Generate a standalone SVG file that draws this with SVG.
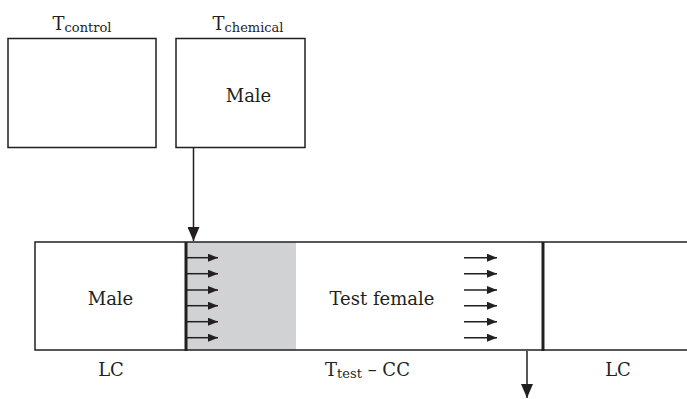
<svg xmlns="http://www.w3.org/2000/svg" width="687" height="399" viewBox="0 0 687 399">
<defs>
<style>
.box{fill:#fff;stroke:#231f20;stroke-width:1.5}
.ln{stroke:#231f20;stroke-width:1.5;fill:none}
.thick{stroke:#231f20;stroke-width:3;fill:none}
text{font-family:"DejaVu Serif","Liberation Serif",serif;fill:#231f20;font-size:18px}
.sub{font-size:13px}
</style>
<marker id="big" viewBox="0 0 14 12" refX="14" refY="6" markerWidth="14" markerHeight="12" markerUnits="userSpaceOnUse" orient="auto">
<path d="M0,0 L14,6 L0,12 Z" fill="#231f20"/>
</marker>
<marker id="sm" viewBox="0 0 10 8" refX="10" refY="4" markerWidth="10" markerHeight="8" markerUnits="userSpaceOnUse" orient="auto">
<path d="M0,0 L10,4 L0,8 Z" fill="#231f20"/>
</marker>
</defs>
<g id="control">
<rect class="box" x="8" y="38.5" width="148" height="109"/>
<text x="82" y="30" text-anchor="middle">T<tspan class="sub" dy="2">control</tspan></text>
</g>
<g id="chemical">
<rect class="box" x="176" y="38.5" width="129" height="109"/>
<text x="248" y="30" text-anchor="middle">T<tspan class="sub" dy="2">chemical</tspan></text>
<text x="248.5" y="101.5" text-anchor="middle">Male</text>
</g>
<g id="strip">
<rect x="186" y="242" width="110" height="108" fill="#d1d2d4"/>
<path class="ln" d="M687,242 H35 V350 H687"/>
<path class="thick" d="M186,242 V351"/>
<path class="thick" d="M543,242 V351"/>
<text x="110.5" y="305" text-anchor="middle">Male</text>
<text x="382" y="305" text-anchor="middle">Test female</text>
<text x="111" y="376" text-anchor="middle">LC</text>
<text x="367.5" y="376" text-anchor="middle">T<tspan class="sub" dy="2">test</tspan><tspan dy="-2"> – CC</tspan></text>
<text x="618" y="376" text-anchor="middle">LC</text>
</g>
<g id="connectors">
<path class="ln" d="M193.5,148 V241" marker-end="url(#big)"/>
<path class="ln" d="M527,351 V398" marker-end="url(#big)"/>
<g class="ln" marker-end="url(#sm)">
<path d="M187,257.7 H218"/>
<path d="M187,273.7 H218"/>
<path d="M187,290 H218"/>
<path d="M187,305.7 H218"/>
<path d="M187,321.7 H218"/>
<path d="M187,337.7 H218"/>
<path d="M464,257.7 H497"/>
<path d="M464,273.7 H497"/>
<path d="M464,290 H497"/>
<path d="M464,305.7 H497"/>
<path d="M464,321.7 H497"/>
<path d="M464,337.7 H497"/>
</g>
</g>
</svg>
